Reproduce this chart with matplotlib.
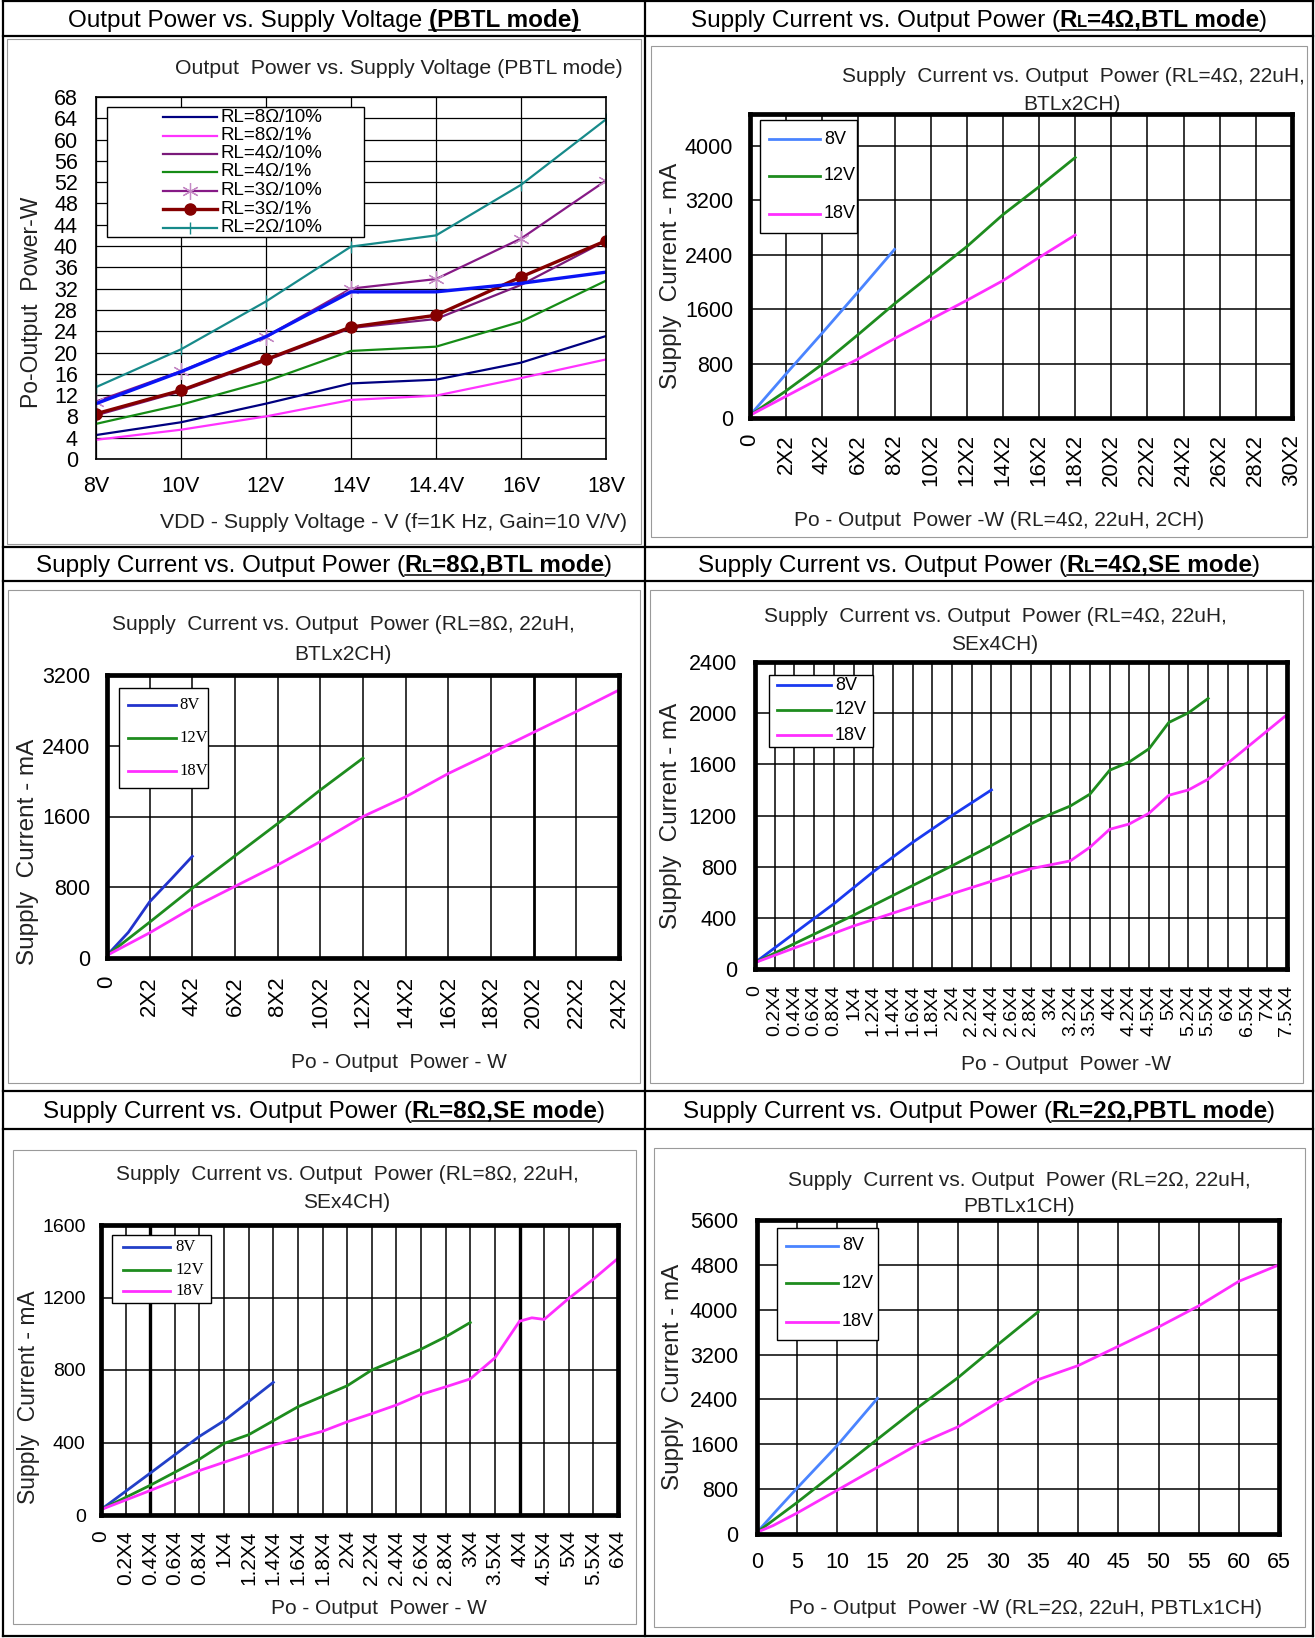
import matplotlib
matplotlib.use("Agg")
import matplotlib.pyplot as plt
from matplotlib.lines import Line2D
from matplotlib.patches import Rectangle
from matplotlib.transforms import Affine2D

plt.rcParams['font.family'] = ['Liberation Sans', 'DejaVu Sans']

# ---------------- data ----------------
# Output power (W) vs supply voltage, PBTL mode
vdd_labels = ["8V", "10V", "12V", "14V", "14.4V", "16V", "18V"]
po_8ohm_10 = [4.5, 6.9, 10.4, 14.2, 14.9, 18.1, 23.1]
po_8ohm_1 = [3.6, 5.5, 8.0, 11.1, 11.9, 15.2, 18.7]
po_4ohm_10 = [8.2, 12.7, 18.5, 24.6, 26.3, 32.7, 41.0]
po_4ohm_1 = [6.6, 10.2, 14.6, 20.3, 21.1, 25.8, 33.5]
po_3ohm_10 = [10.8, 16.5, 23.0, 32.0, 33.8, 41.4, 52.3]
po_3ohm_1 = [8.5, 12.9, 18.7, 24.8, 27.0, 34.2, 41.0]
po_2ohm_10 = [13.5, 20.6, 29.6, 39.9, 42.0, 51.5, 63.8]
po_blue = [10.4, 16.4, 23.0, 31.4, 31.4, 33.0, 35.1]   # trace without legend entry
po_names = ["RL=8Ω/10%", "RL=8Ω/1%", "RL=4Ω/10%", "RL=4Ω/1%",
            "RL=3Ω/10%", "RL=3Ω/1%", "RL=2Ω/10%"]

vdd_names = ["8V", "12V", "18V"]

# supply current (mA) vs output power, RL=4 ohm BTL
btl4_po_8v = [0, 2, 4, 6, 8]
btl4_ma_8v = [40, 650, 1250, 1860, 2480]
btl4_po_12v = [0, 2, 4, 6, 8, 10, 12, 14, 16, 18]
btl4_ma_12v = [40, 400, 790, 1230, 1680, 2100, 2520, 2990, 3400, 3830]
btl4_po_18v = [0, 2, 4, 6, 8, 10, 12, 14, 16, 18]
btl4_ma_18v = [40, 320, 600, 870, 1170, 1450, 1730, 2020, 2360, 2690]
btl4_ticks = [str(v) + "X2" if v else "0" for v in range(0, 31, 2)]

# RL=8 ohm BTL
btl8_po_8v = [0, 1, 2, 3, 4]
btl8_ma_8v = [30, 290, 636, 890, 1150]
btl8_po_12v = [0, 2, 4, 6, 8, 10, 12]
btl8_ma_12v = [30, 405, 790, 1155, 1520, 1900, 2260]
btl8_po_18v = [0, 2, 4, 6, 8, 10, 12, 14, 16, 18, 20, 22, 24]
btl8_ma_18v = [30, 285, 567, 810, 1053, 1316, 1600, 1823, 2086, 2317, 2552, 2787, 3030]
btl8_ticks = [str(v) + "X2" if v else "0" for v in range(0, 25, 2)]

# RL=4 ohm SE (x is the category slot on the power axis)
se4_ticks = ["0", "0.2X4", "0.4X4", "0.6X4", "0.8X4", "1X4", "1.2X4", "1.4X4",
             "1.6X4", "1.8X4", "2X4", "2.2X4", "2.4X4", "2.6X4", "2.8X4", "3X4",
             "3.2X4", "3.5X4", "4X4", "4.2X4", "4.5X4", "5X4", "5.2X4", "5.5X4",
             "6X4", "6.5X4", "7X4", "7.5X4"]
se4_pos_8v = [0, 2, 4, 6, 8, 10, 12]
se4_ma_8v = [50, 280, 510, 760, 990, 1200, 1400]
se4_pos_12v = [0, 5, 10, 12, 14, 15, 16, 17, 18, 19, 20, 21, 22, 23]
se4_ma_12v = [50, 420, 807, 966, 1134, 1210, 1274, 1367, 1554, 1619, 1722, 1927, 2003, 2115]
se4_pos_18v = [0, 5, 10, 14, 16, 17, 18, 19, 20, 21, 22, 23, 24, 25, 26, 27]
se4_ma_18v = [50, 336, 588, 784, 845, 952, 1092, 1134, 1218, 1358, 1400, 1484, 1610, 1736, 1862, 1988]

# RL=8 ohm SE
se8_ticks = ["0", "0.2X4", "0.4X4", "0.6X4", "0.8X4", "1X4", "1.2X4", "1.4X4",
             "1.6X4", "1.8X4", "2X4", "2.2X4", "2.4X4", "2.6X4", "2.8X4", "3X4",
             "3.5X4", "4X4", "4.5X4", "5X4", "5.5X4", "6X4"]
se8_pos_8v = [0, 2, 4, 5, 6, 7]
se8_ma_8v = [30, 231, 434, 520, 626, 732]
se8_pos_12v = [0, 2, 4, 5, 6, 7, 8, 10, 11, 12, 13, 14, 15]
se8_ma_12v = [30, 164, 308, 395, 443, 520, 597, 713, 800, 857, 915, 983, 1062]
se8_pos_18v = [0, 2, 4, 6, 7, 8, 9, 10, 11, 12, 13, 14, 15, 16, 17, 17.5, 18, 19, 20, 21]
se8_ma_18v = [30, 135, 245, 337, 385, 424, 462, 514, 559, 607, 665, 707, 751, 867, 1069, 1088, 1079, 1195, 1301, 1416]

# RL=2 ohm PBTL
pbtl_po_8v = [0, 2.5, 5, 7.5, 10, 12.5, 15]
pbtl_ma_8v = [30, 430, 820, 1200, 1580, 2000, 2420]
pbtl_po_12v = [0, 5, 10, 15, 20, 25, 30, 35]
pbtl_ma_12v = [30, 563, 1126, 1690, 2253, 2785, 3379, 3961]
pbtl_po_18v = [0, 2, 5, 10, 15, 20, 25, 30, 35, 40, 45, 50, 55, 60, 65]
pbtl_ma_18v = [30, 150, 375, 782, 1189, 1596, 1909, 2347, 2753, 3004, 3348, 3692, 4068, 4506, 4800]

# ---------------- figure ----------------
W, H = 1315, 1638
fig = plt.figure(figsize=(W / 100, H / 100), dpi=100)
# pixel coordinates, origin top-left
PX = Affine2D().scale(1 / W, -1 / H).translate(0, 1) + fig.transFigure

GREEN = "#1e8c1e"
MAGENTA = "#ff2eff"
LIGHTBLUE = "#4a84ff"


def add_box_axes(x0, y0, x1, y1):
    return fig.add_axes([x0 / W, 1 - y1 / H, (x1 - x0) / W, (y1 - y0) / H])


def line(x0, y0, x1, y1, lw=1.6, color="black", z=30):
    fig.add_artist(Line2D([x0, x1], [y0, y1], transform=PX, color=color,
                          lw=lw, zorder=z, solid_capstyle="projecting"))


# table grid
TABLE_X = [3, 645, 1313]
TABLE_Y = [1, 36, 547, 581, 1091, 1129, 1636]
for y in TABLE_Y:
    line(TABLE_X[0], y, TABLE_X[-1], y)
for x in TABLE_X:
    line(x, TABLE_Y[0], x, TABLE_Y[-1])

# thin frames of the pasted chart pictures
for x0, y0, x1, y1 in [(7, 39, 641, 544), (651, 46, 1307, 537), (8, 590, 640, 1083),
                       (650, 590, 1303, 1083), (13, 1150, 636, 1624), (654, 1148, 1305, 1627)]:
    fig.add_artist(Rectangle((x0, y0), x1 - x0, y1 - y0, transform=PX, fill=False,
                             ec="#9a9a9a", lw=0.8, zorder=-3))

HEAD_FS = 17.5


def header(cx, cy, pieces):
    """pieces: (text, bold, underline, size factor, gap before in em)"""
    rend = fig.canvas.get_renderer()
    objs = []
    for txt, bold, ul, scale, gap in pieces:
        t = fig.text(0, 0, txt, transform=PX, fontsize=HEAD_FS * scale,
                     fontweight="bold" if bold else "normal", va="baseline", ha="left")
        objs.append(t)
    em = HEAD_FS * 100 / 72
    widths = [t.get_window_extent(rend).width for t in objs]
    gaps = [p[4] * em for p in pieces]
    total = sum(widths) + sum(gaps)
    x = cx - total / 2
    base = cy + 0.36 * em
    ul_start = ul_end = None
    for t, w, g, p in zip(objs, widths, gaps, pieces):
        x += g
        t.set_position((x, base))
        if p[2]:
            ul_start = x if ul_start is None else ul_start
            ul_end = x + w
        x += w
    if ul_start is not None:
        line(ul_start, base + 3, ul_end, base + 3, lw=1.1)


def rl_header(cx, cy, tail):
    header(cx, cy, [("Supply Current vs. Output Power (", False, False, 1.0, 0),
                    ("R", True, True, 1.0, 0),
                    ("L", True, True, 0.68, 0),
                    (tail, True, True, 1.0, 0),
                    (")", False, False, 1.0, 0)])


header(324, 18, [("Output Power vs. Supply Voltage", False, False, 1.0, 0),
                 ("(PBTL mode)", True, True, 1.0, 0.28)])
rl_header(979, 18, "=4Ω,BTL mode")
rl_header(324, 563, "=8Ω,BTL mode")
rl_header(979, 563, "=4Ω,SE mode")
rl_header(324, 1109, "=8Ω,SE mode")
rl_header(979, 1109, "=2Ω,PBTL mode")


def ftext(x, y, s, fs, rot=0, z=3, **kw):
    return fig.text(x, y, s, transform=PX, fontsize=fs, rotation=rot, ha="center",
                    va="center", zorder=z, **kw)


def style_axes(ax, frame_lw, grid_lw, yfs, xfs, ypad, xpad, xrot=0):
    ax.set_facecolor("none")
    for s in ax.spines.values():
        s.set_linewidth(frame_lw)
        s.set_color("black")
        s.set_zorder(10)
    ax.grid(True, color="black", lw=grid_lw)
    ax.set_axisbelow(True)
    ax.tick_params(length=0)
    ax.tick_params(axis="y", labelsize=yfs, pad=ypad)
    ax.tick_params(axis="x", labelsize=xfs, pad=xpad, labelrotation=xrot)


def draw_legend(box, handles, labels, rows, hx, tx, fs, family="Liberation Sans"):
    x0, y0, x1, y1 = box
    fig.add_artist(Rectangle((x0, y0), x1 - x0, y1 - y0, transform=PX, fc="white",
                             ec="black", lw=1.0, zorder=20))
    for h, lab, y in zip(handles, labels, rows):
        seg = Line2D([hx[0], hx[1]], [y, y])
        seg.update_from(h)
        seg.set_marker("None")
        seg.set_transform(PX)
        seg.set_clip_on(False)
        seg.set_zorder(21)
        fig.add_artist(seg)
        if h.get_marker() not in ("None", None, ""):
            mk = Line2D([(hx[0] + hx[1]) / 2], [y])
            mk.update_from(h)
            mk.set_linestyle("None")
            mk.set_transform(PX)
            mk.set_clip_on(False)
            mk.set_zorder(22)
            fig.add_artist(mk)
        fig.text(tx, y, lab, transform=PX, fontsize=fs, family=family,
                 ha="left", va="center", zorder=22)


# ---- output power vs supply voltage ----
ax1 = add_box_axes(96, 97, 606, 459)
xs = list(range(len(vdd_labels)))
h1 = []
h1 += ax1.plot(xs, po_8ohm_10, color="#000080", lw=1.6, zorder=3)
h1 += ax1.plot(xs, po_8ohm_1, color="#ff33ff", lw=1.6, zorder=3)
h1 += ax1.plot(xs, po_4ohm_10, color="#7a1a7a", lw=1.6, zorder=3)
h1 += ax1.plot(xs, po_4ohm_1, color="#168c16", lw=1.6, zorder=3)
h1 += ax1.plot(xs, po_3ohm_10, color="#861a86", lw=1.6, marker=(6, 2, 0), ms=12,
               mec="#c58ac5", mew=0.9, zorder=4)
h1 += ax1.plot(xs, po_3ohm_1, color="#850000", lw=2.4, marker="o", ms=8,
               mfc="#850000", mec="#850000", zorder=5)
h1 += ax1.plot(xs, po_2ohm_10, color="#178a8a", lw=1.6, marker="|", ms=9,
               mew=1.0, zorder=5)
ax1.plot(xs, po_blue, color="#0a14f5", lw=2.4, zorder=6)
ax1.set_xlim(0, 6)
ax1.set_ylim(0, 68)
ax1.set_xticks(xs, vdd_labels)
ax1.set_yticks(range(0, 69, 4))
style_axes(ax1, 1.2, 0.9, 15.5, 15.5, 13, 12)
draw_legend((107, 107, 364, 237), h1, po_names,
            [117, 135.5, 153.5, 172, 190.5, 209, 228], (163, 217), 221, 13.5)
ftext(399, 68, "Output  Power vs. Supply Voltage (PBTL mode)", 15.3, color="#222222")
ftext(394, 523, "VDD - Supply Voltage - V (f=1K Hz, Gain=10 V/V)", 15.3, color="#222222")
ftext(32, 302, "Po-Output  Power-W", 16.5, rot=90, color="#222222")


def current_chart(frame, xlim, ylim, ystep, xticks, xlabels, series, xfs, xpad,
                  ypad, xrot=90, yfs=15.5):
    ax = add_box_axes(*frame)
    hs = []
    for x, y, c in series:
        hs += ax.plot(x, y, color=c, lw=2.0, zorder=4)
    ax.set_xlim(*xlim)
    ax.set_ylim(*ylim)
    ax.set_xticks(xticks, xlabels)
    ax.set_yticks(range(0, int(ylim[1]) + 1, ystep))
    style_axes(ax, 3.4, 1.1, yfs, xfs, ypad, xpad, xrot)
    return ax, hs


# ---- RL=4 ohm BTL ----
ax2, h2 = current_chart((750, 114, 1292, 418), (0, 30), (0, 4470), 800,
                        range(0, 31, 2), btl4_ticks,
                        [(btl4_po_8v, btl4_ma_8v, LIGHTBLUE),
                         (btl4_po_12v, btl4_ma_12v, GREEN),
                         (btl4_po_18v, btl4_ma_18v, MAGENTA)], 16, 11.5, 12)
draw_legend((760, 120, 857, 233), h2, vdd_names, [139, 176, 214], (769, 820), 824, 13)
ftext(1073, 77, "Supply  Current vs. Output  Power (RL=4Ω, 22uH,", 15, z=-1, color="#222222")
ftext(1072, 104, "BTLx2CH)", 15, z=-1, color="#222222")
ftext(999, 520, "Po - Output  Power -W (RL=4Ω, 22uH, 2CH)", 15, color="#222222")
ftext(671, 276, "Supply  Current - mA", 17.5, rot=90, color="#222222")

# ---- RL=8 ohm BTL ----
ax3, h3 = current_chart((107, 675, 619, 958), (0, 24), (0, 3200), 800,
                        range(0, 25, 2), btl8_ticks,
                        [(btl8_po_8v, btl8_ma_8v, "#2233cc"),
                         (btl8_po_12v, btl8_ma_12v, GREEN),
                         (btl8_po_18v, btl8_ma_18v, MAGENTA)], 16, 13, 12)
ax3.get_xgridlines()[10].set_linewidth(2.0)
draw_legend((119, 688, 208, 788), h3, vdd_names, [705, 738, 771], (128, 176), 179, 12,
            family="Liberation Serif")
ftext(343, 625, "Supply  Current vs. Output  Power (RL=8Ω, 22uH,", 15, z=-1, color="#222222")
ftext(343, 654, "BTLx2CH)", 15, z=-1, color="#222222")
ftext(399, 1063, "Po - Output  Power - W", 15, color="#222222")
ftext(28, 852, "Supply  Current - mA", 17.5, rot=90, color="#222222")

# ---- RL=4 ohm SE ----
ax4, h4 = current_chart((755, 662, 1287, 969), (0, 27), (0, 2400), 400,
                        range(len(se4_ticks)), se4_ticks,
                        [(se4_pos_8v, se4_ma_8v, "#1a3af0"),
                         (se4_pos_12v, se4_ma_12v, GREEN),
                         (se4_pos_18v, se4_ma_18v, MAGENTA)], 14, 11.5, 13)
draw_legend((769, 675, 873, 747), h4, vdd_names, [685, 710, 735], (777, 831), 835, 13)
ftext(995, 617, "Supply  Current vs. Output  Power (RL=4Ω, 22uH,", 15, z=-1, color="#222222")
ftext(995, 645, "SEx4CH)", 15, z=-1, color="#222222")
ftext(1066, 1065, "Po - Output  Power -W", 15, color="#222222")
ftext(671, 816, "Supply  Current - mA", 17.5, rot=90, color="#222222")

# ---- RL=8 ohm SE ----
ax5, h5 = current_chart((101, 1225, 618, 1515), (0, 21), (0, 1600), 400,
                        range(len(se8_ticks)), se8_ticks,
                        [(se8_pos_8v, se8_ma_8v, "#2240c8"),
                         (se8_pos_12v, se8_ma_12v, GREEN),
                         (se8_pos_18v, se8_ma_18v, MAGENTA)], 15, 11, 11, yfs=14)
for i in (2, 17):
    ax5.get_xgridlines()[i].set_linewidth(2.4)
draw_legend((112, 1235, 211, 1303), h5, vdd_names, [1247, 1270, 1291], (123, 170), 175, 12,
            family="Liberation Serif")
ftext(347, 1174, "Supply  Current vs. Output  Power (RL=8Ω, 22uH,", 15, z=-1, color="#222222")
ftext(347, 1202, "SEx4CH)", 15, z=-1, color="#222222")
ftext(379, 1609, "Po - Output  Power - W", 15, color="#222222")
ftext(29, 1397, "Supply  Current - mA", 16.5, rot=90, color="#222222")

# ---- RL=2 ohm PBTL ----
ax6, h6 = current_chart((757, 1220, 1279, 1534), (0, 65), (0, 5600), 800,
                        range(0, 66, 5), [str(v) for v in range(0, 66, 5)],
                        [(pbtl_po_8v, pbtl_ma_8v, LIGHTBLUE),
                         (pbtl_po_12v, pbtl_ma_12v, GREEN),
                         (pbtl_po_18v, pbtl_ma_18v, MAGENTA)], 15.5, 13, 13.5, xrot=0)
draw_legend((777, 1228, 878, 1340), h6, vdd_names, [1246, 1283, 1322], (786, 838), 842, 13)
ftext(1019, 1180, "Supply  Current vs. Output  Power (RL=2Ω, 22uH,", 15, z=-1, color="#222222")
ftext(1019, 1207, "PBTLx1CH)", 15, z=-1, color="#222222")
ftext(1026, 1609, "Po - Output  Power -W (RL=2Ω, 22uH, PBTLx1CH)", 15, color="#222222")
ftext(673, 1377, "Supply  Current - mA", 17.5, rot=90, color="#222222")

fig.savefig("out.png", dpi=100, facecolor="white")
